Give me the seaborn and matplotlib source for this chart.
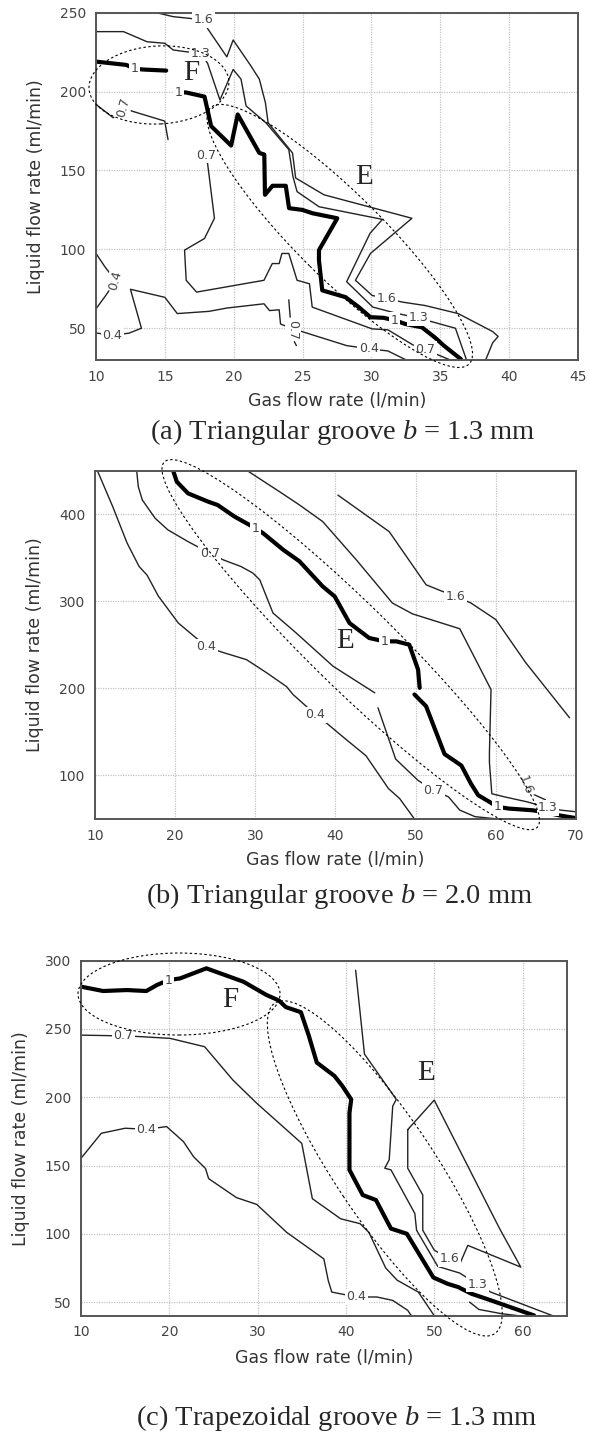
"""Contour maps (flow regime) for three groove shapes, stacked vertically."""

import matplotlib
matplotlib.use("Agg")
import matplotlib.pyplot as plt
import seaborn as sns
from matplotlib.patches import Ellipse
from matplotlib.transforms import IdentityTransform

# ---------------- (a) Triangular groove b = 1.3 mm ----------------
a_one_upper_x = [10, 12.2, 12.8, 13.4, 15.1]
a_one_upper_y = [219, 216.9, 214.5, 214, 213.3]
a_one_main_x = [16.0, 16.55, 17.88, 18.36, 19.81, 20.29, 21.86, 22.22, 22.27, 22.82, 23.78,
                24.02, 24.99, 25.71, 27.52, 26.19, 26.19, 26.43, 28.12, 29.08, 29.93, 30.89,
                31.7, 32.46, 33.66, 34.6, 35.3, 36.5]
a_one_main_y = [199.7, 199.4, 196.8, 178.1, 165.8, 185.5, 161.1, 160.1, 134.6, 140.3, 140.3,
                126.1, 125.0, 122.9, 119.7, 99.5, 93.1, 74.0, 69.7, 63.4, 57.0, 56.6,
                55, 52.7, 50.6, 44.2, 38.7, 30.4]
a_16_x = [14.4, 15.6, 16.8, 17.8, 18.1, 19.5, 19.96, 21.2, 21.86, 22.3, 22.5, 24.27, 24.5,
          26.55, 32.94, 29.93, 28.84, 30.05, 31.1, 32.3, 33.9, 36.3, 38.8, 39.2, 38.8, 38.3]
a_16_y = [250, 247.5, 246.4, 245.5, 240, 222, 232.7, 216.9, 207.9, 193, 180.2, 161.1, 145.2,
          134.6, 119.7, 97.4, 80.4, 70.8, 68.7, 66.5, 64.4, 59.3, 47.9, 44.8, 40.7, 30]
a_13_x = [10, 12.0, 13.7, 15.0, 15.6, 16.5, 17.6, 18.1, 19.0, 19.96, 20.53, 20.9, 22.34, 24.0,
          24.3, 24.6, 26.2, 30.8, 29.9, 28.2, 30.1, 31.8, 33.4, 34.4, 36.1, 36.9]
a_13_y = [238, 238, 231.6, 230.6, 226.4, 225.3, 224.2, 218, 194.7, 214, 207.9, 190.9, 180.2,
          163.2, 146.2, 136.6, 127, 119, 110.2, 79.5, 63.4, 59.5, 56.5, 54.1, 50, 30]
a_07_left_x = [10, 11.25, 11.98, 12.58, 14.99, 15.23]
a_07_left_y = [191.9, 183.4, 190.9, 187.7, 181.3, 169.6]
a_07_main_x = [18.0, 18.1, 18.6, 17.88, 16.43, 16.55, 17.3, 22.2, 22.8, 23.3, 23.5, 24.0, 24.6,
               25.5, 25.7, 30.05, 31.2, 33.0, 33.9, 35.0, 35.7]
a_07_main_y = [159.8, 154.6, 119.7, 106.9, 99.5, 80.4, 72.9, 80.4, 91, 91, 97.4, 97.4, 80.4,
               78.2, 63.4, 49.6, 49, 39.5, 36.8, 32.5, 30]
a_07_small_x = [24.0, 24.1]
a_07_small_y = [68, 57]
a_07_tip_x = [24.4, 24.55]
a_07_tip_y = [41.5, 39]
a_04_left_x = [10, 10.65, 11.4, 10.8, 10]
a_04_left_y = [97.4, 88.9, 80.4, 71.9, 62.3]
a_04_main_x = [10, 11.2, 12.4, 13.3, 12.5, 15.0, 15.9, 18.2, 19.5, 22.2, 22.6, 23.3, 23.4, 24.0,
               28.2, 29.8, 31.2, 32.5]
a_04_main_y = [47, 45.5, 46.9, 50, 74.7, 69.6, 59.3, 60.7, 62.8, 65.5, 61.2, 61.7, 52.7, 50.5,
               39, 37, 35.6, 30]

# ---------------- (b) Triangular groove b = 2.0 mm ----------------
b_04_x = [10.3, 12.2, 14.0, 15.5, 16.5, 17.9, 20.4, 23.9, 25.7, 28.9, 31.4, 33.9, 34.7, 37.5,
          38.9, 41.3, 43.8, 46.6, 48.0, 49.85]
b_04_y = [450, 409, 367, 340, 330, 306, 275, 248, 242, 233, 218, 202, 193, 170, 160, 141.5,
          122.7, 85, 73.5, 50]
b_07_upper_x = [15.2, 15.4, 15.9, 17.5, 19.1, 21.6, 24.3, 26.0, 28.2, 29.7, 30.55, 32.2, 35.1,
                39.7, 44.9]
b_07_upper_y = [450, 431.7, 416.4, 395.4, 382, 368.6, 355.3, 347.6, 340, 332.4, 324.7, 286.6,
                263.6, 225.4, 194.9]
b_07_lower_x = [45.3, 47.5, 50.3, 52.2, 54.1, 55.5, 57.4, 60.2]
b_07_lower_y = [177.7, 118.9, 94.3, 83, 75.4, 60.2, 52.7, 50]
b_one_upper_x = [19.75, 20.2, 21.6, 24.1, 25.3, 27.4, 30.0, 31.0, 33.5, 35.5, 38.4, 39.9, 41.75,
                 44.2, 46.1, 47.6, 49.2, 50.3, 50.5]
b_one_upper_y = [450, 437.4, 424, 414.5, 410.6, 397.3, 384, 378, 359, 346, 317.1, 305.6, 275,
                 257.9, 254, 254, 250.2, 221.6, 200.6]
b_one_lower_x = [49.85, 51.3, 53.6, 55.7, 56.9, 57.8, 59.2, 60.2, 61.6, 64.6, 66.5, 68, 70]
b_one_lower_y = [193, 179.5, 124.6, 111.4, 90.5, 77.3, 69.7, 64, 62, 60, 57, 54, 51]
b_13_x = [29, 33, 35.5, 38.4, 42.6, 47.1, 49.6, 55.5, 59.4, 59.2, 59.2, 59.5, 61.1, 63.9, 66.5,
          68.1, 70]
b_13_y = [450, 426, 410.7, 391.6, 347.6, 298, 285.6, 268.5, 198.6, 126, 115, 79, 75.4, 69.7,
          62.9, 60.2, 58.3]
b_16_upper_x = [40.3, 46.7, 51.3, 52.9, 55.0, 56.9, 60.0, 63.75, 69.2]
b_16_upper_y = [422, 380, 319, 313, 305.6, 298, 279, 229.3, 166.2]
b_16_lower_x = [63.0, 63.7, 64.3, 66.2]
b_16_lower_y = [100, 88.5, 80, 72]

# ---------------- (c) Trapezoidal groove b = 1.3 mm ----------------
c_one_x = [10, 12.5, 15.2, 17.4, 18.6, 19.9, 21.2, 24.2, 28.4, 31.0, 32.4, 33.2, 34.9, 35.8,
           36.7, 38.7, 39.6, 40.6, 40.4, 40.4, 41.9, 43.4, 45.1, 46.9, 49.9, 51.5, 52.7, 54.2,
           55.9, 61.3]
c_one_y = [281, 277.8, 278.5, 277.8, 282.2, 285.8, 287, 294.4, 284.6, 274.9, 270.9, 266, 262.3,
           245, 225.4, 215.6, 208.2, 198.4, 188.6, 146.8, 128.4, 124.7, 103.8, 100, 68, 63.4,
           61, 56.1, 52.4, 40.2]
c_07_x = [10, 14.8, 16.7, 20.1, 24.0, 27.2, 29.9, 35.0, 36.2, 39.4, 41.6, 42.6, 44.5, 45.8,
          48.2, 50]
c_07_y = [245.5, 244.9, 244.4, 243.1, 237, 212.6, 195.6, 166.2, 125.7, 111, 107.4, 101, 75,
          66, 57.3, 40]
c_04_x = [10, 12.3, 15, 17.4, 19.7, 21.6, 22.75, 24.1, 24.45, 27.6, 29.9, 33.3, 37.5, 38.0,
          38.4, 41.2, 43.5, 45.3, 47.0, 47.4]
c_04_y = [155.3, 173.6, 177.3, 176.5, 178.5, 167.5, 156.4, 147.8, 140.4, 126.5, 121.5, 101,
          81.6, 65.7, 57.3, 53.7, 53.7, 51.2, 43.9, 40]
c_13_x = [41.1, 42.1, 45.7, 45.3, 44.9, 44.4, 45.1, 47.8, 48.0, 50.4, 52.9, 54.9, 56.4, 63.4]
c_13_y = [293, 231.6, 198.4, 193.5, 154.2, 148, 146.8, 114.9, 102.6, 76.1, 71.2, 62.9, 57.3, 40]
c_16_x = [47.0, 50.0, 57.4, 59.8, 53.8, 52.9, 51.7, 50.0, 48.7, 48.7, 47.0, 47.0]
c_16_y = [176.3, 197.9, 103.8, 75.6, 91.5, 78, 81.7, 88, 102.6, 128.4, 148, 176.3]
c_small_x = [54.0, 55.05, 57.6, 59.5]
c_small_y = [50, 44.6, 41.5, 40]

# contour labels: text, x, y, rotation
a_labels = [("1", 12.8, 214.8, 0), ("1", 16.0, 199.7, 0), ("1", 31.7, 55, 0),
            ("1.6", 17.8, 245.5, 0), ("1.6", 31.1, 68.7, 0),
            ("1.3", 17.6, 224.2, 0), ("1.3", 33.4, 56.5, 0),
            ("0.7", 11.98, 190, 75), ("0.7", 18.0, 159.8, 0), ("0.7", 24.3, 49, -90),
            ("0.7", 33.9, 36.8, 0),
            ("0.4", 11.4, 80.4, 75), ("0.4", 11.2, 45.5, 0), ("0.4", 29.8, 37, 0)]
b_labels = [("0.4", 23.9, 248, 0), ("0.4", 37.5, 170, 0), ("0.7", 24.3, 355.3, 0),
            ("0.7", 52.2, 83, 0), ("1", 30.0, 384, 0), ("1", 46.1, 254, 0), ("1", 60.2, 64, 0),
            ("1.3", 66.5, 62.9, 0), ("1.6", 55.0, 305.6, 0), ("1.6", 63.7, 88.5, -70)]
c_labels = [("1", 19.9, 285.8, 0), ("0.7", 14.8, 244.9, 0), ("0.4", 17.4, 176.5, 0),
            ("0.4", 41.2, 53.7, 0), ("1.3", 54.9, 62.9, 0), ("1.6", 51.7, 81.7, 0)]

captions = ["(a) Triangular groove $b$ = 1.3 mm",
            "(b) Triangular groove $b$ = 2.0 mm",
            "(c) Trapezoidal groove $b$ = 1.3 mm"]

W, H = 590, 1434


def frac_box(left, top, right, bottom):
    return [left / W, 1 - bottom / H, (right - left) / W, (bottom - top) / H]


def draw_lines(ax, lines):
    for xs, ys, thick in lines:
        sns.lineplot(x=xs, y=ys, sort=False, estimator=None, ax=ax, legend=False,
                     color="black" if thick else "#222222",
                     linewidth=3.0 if thick else 1.0)


def draw_labels(ax, labels):
    for txt, x, y, rot in labels:
        ax.text(x, y, txt, ha="center", va="center", rotation=rot, fontsize=9,
                color="#444444", zorder=6,
                bbox=dict(boxstyle="square,pad=0.12", fc="white", ec="none"))


def draw_ellipse(fig, ax, cx, cy, w, h, angle):
    px, py = ax.transData.transform((cx, cy))
    fig.add_artist(Ellipse((px, py), w, h, angle=angle, transform=IdentityTransform(),
                           fill=False, ec="black", lw=0.8, ls=(0, (2.2, 2.2)), zorder=7))


def style_axes(ax, xlim, ylim, xticks, yticks):
    ax.set_xlim(*xlim)
    ax.set_ylim(*ylim)
    ax.set_xticks(xticks)
    ax.set_yticks(yticks)
    ax.grid(True, color="#c4c4c4", ls=(0, (1, 1)), lw=0.9)
    ax.set_axisbelow(True)
    for sp in ax.spines.values():
        sp.set_color("#555555")
        sp.set_linewidth(1.4)
    ax.tick_params(direction="out", length=4, width=1.2, color="#555555",
                   labelsize=10, labelcolor="#444444", pad=3)
    ax.set_xlabel("Gas flow rate (l/min)", fontsize=12.5, color="#333333")
    ax.set_ylabel("Liquid flow rate (ml/min)", fontsize=12.5, color="#333333")
    ax.xaxis.label.set_va("center")
    ax.yaxis.label.set_va("center")
    ax.xaxis.set_label_coords(0.5, -0.118)
    ax.yaxis.set_label_coords(-0.124, 0.5)


def main() -> None:
    sns.set_theme(style="white")
    plt.rcParams["font.family"] = ["DejaVu Sans"]
    plt.rcParams["mathtext.fontset"] = "custom"
    plt.rcParams["mathtext.rm"] = "Liberation Serif"
    plt.rcParams["mathtext.it"] = "Liberation Serif:italic"

    fig = plt.figure(figsize=(W / 100, H / 100), dpi=100)
    ax_a = fig.add_axes(frac_box(96, 12.7, 578, 359.8))
    ax_b = fig.add_axes(frac_box(95, 470.7, 576, 819))
    ax_c = fig.add_axes(frac_box(81, 960.7, 566.7, 1315.7))

    # (a)
    draw_lines(ax_a, [(a_one_upper_x, a_one_upper_y, True), (a_one_main_x, a_one_main_y, True),
                      (a_16_x, a_16_y, False), (a_13_x, a_13_y, False),
                      (a_07_left_x, a_07_left_y, False), (a_07_main_x, a_07_main_y, False),
                      (a_07_small_x, a_07_small_y, False), (a_07_tip_x, a_07_tip_y, False),
                      (a_04_left_x, a_04_left_y, False), (a_04_main_x, a_04_main_y, False)])
    style_axes(ax_a, (10, 45), (30, 250), range(10, 46, 5), range(50, 251, 50))
    draw_labels(ax_a, a_labels)

    # (b)
    draw_lines(ax_b, [(b_04_x, b_04_y, False), (b_07_upper_x, b_07_upper_y, False),
                      (b_07_lower_x, b_07_lower_y, False),
                      (b_one_upper_x, b_one_upper_y, True), (b_one_lower_x, b_one_lower_y, True),
                      (b_13_x, b_13_y, False), (b_16_upper_x, b_16_upper_y, False),
                      (b_16_lower_x, b_16_lower_y, False)])
    style_axes(ax_b, (10, 70), (50, 450), range(10, 71, 10), range(100, 401, 100))
    draw_labels(ax_b, b_labels)

    # (c)
    draw_lines(ax_c, [(c_one_x, c_one_y, True), (c_07_x, c_07_y, False), (c_04_x, c_04_y, False),
                      (c_13_x, c_13_y, False), (c_16_x, c_16_y, False),
                      (c_small_x, c_small_y, False)])
    style_axes(ax_c, (10, 65), (40, 300), range(10, 61, 10), range(50, 301, 50))
    draw_labels(ax_c, c_labels)

    # region letters
    serif = dict(family="Liberation Serif", fontsize=21, ha="center", va="center", zorder=8)
    ax_a.text(16.9, 211.5, "F", **serif)
    ax_a.text(29.5, 146, "E", **serif)
    ax_b.text(41.2, 254, "E", **serif)
    ax_c.text(26.9, 271.2, "F", **serif)
    ax_c.text(49.1, 218, "E", **serif)

    # dotted ellipses, drawn in pixel space so they stay true ellipses
    draw_ellipse(fig, ax_a, 14.57, 204.2, 140, 78, 3)
    draw_ellipse(fig, ax_a, 27.7, 108.5, 364, 85, -44.7)
    draw_ellipse(fig, ax_b, 41.9, 250.2, 522, 84, -44.4)
    draw_ellipse(fig, ax_c, 21.1, 275.6, 202, 82, 0)
    draw_ellipse(fig, ax_c, 44.4, 147.9, 397, 100, -56.4)

    for cap, (cx, cy) in zip(captions, [(343, 432), (340, 896), (337, 1418)]):
        fig.text(cx / W, 1 - cy / H, cap, family="Liberation Serif", fontsize=20.5,
                 ha="center", va="center")

    fig.savefig("out.png", dpi=100)


if __name__ == "__main__":
    main()
